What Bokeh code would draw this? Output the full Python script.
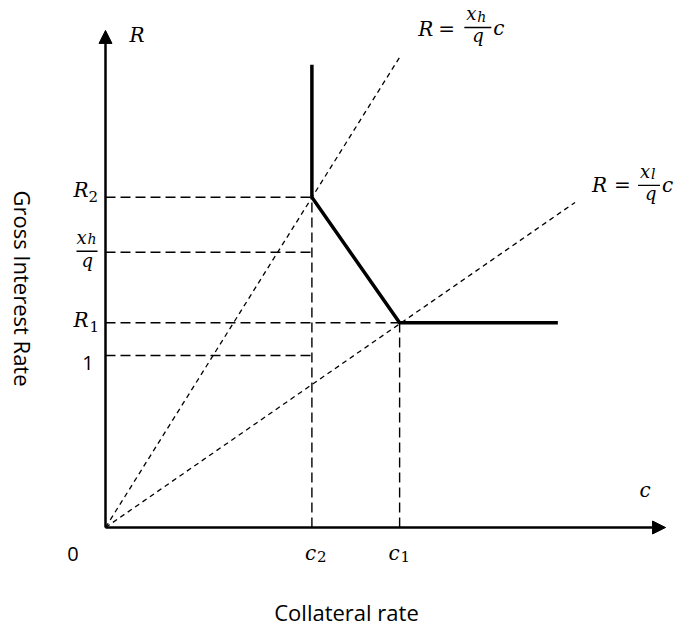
import math
from bokeh.plotting import figure
from bokeh.models import Range1d, Arrow, NormalHead
from bokeh.core.properties import value
from bokeh.embed import file_html
from bokeh.resources import INLINE

# ---------------- data (level "1" = 1 unit) ----------------
c2 = 1.20            # collateral rate c2
c1 = 1.71            # collateral rate c1
R2 = 1.92            # gross rate R2
R1 = 1.19            # gross rate R1
R_one = 1.00         # level "1"
xh_q = 1.60          # level x_h / q

# thick piecewise curve
curve_c = [1.20, 1.20, 1.71, 2.63]
curve_R = [2.69, 1.92, 1.19, 1.19]

# dotted rays through the origin: R = (x_h/q) c and R = (x_l/q) c
ray_h_c = [0.0, 1.72]
ray_h_R = [0.0, 2.75]
ray_l_c = [0.0, 2.73]
ray_l_R = [0.0, 1.89]

# axis extents
c_axis_max = 3.256
R_axis_max = 2.89

# dashed guide lines
guide_h_R = [R2, xh_q, R1, R_one]
guide_h_c = [c2, c2, c1, c2]
guide_v_c = [c2, c1]
guide_v_R = [R2, R1]

# ---------------- figure ----------------
W, H = 675, 625
PX = 1.0 / 172.0           # data units per screen pixel (both axes)
ORIG_X, ORIG_Y = 105, 527  # origin position on the canvas (pixels from left / top)
FIX = -8                   # baseline correction for alphabetic texts

p = figure(width=W, height=H, output_backend="svg", toolbar_location=None,
           x_range=Range1d(-ORIG_X * PX, (W - ORIG_X) * PX),
           y_range=Range1d(-(H - ORIG_Y) * PX, ORIG_Y * PX),
           x_axis_location=None, y_axis_location=None,
           min_border=0, min_border_left=0, min_border_right=0,
           min_border_top=0, min_border_bottom=0,
           outline_line_color=None, background_fill_color="white",
           border_fill_color="white")
p.grid.visible = False

BLACK = "black"

# dashed guides
p.segment(x0=[0] * len(guide_h_R), y0=guide_h_R, x1=guide_h_c, y1=guide_h_R,
          line_color=BLACK, line_width=1.4, line_dash="10 5")
p.segment(x0=guide_v_c, y0=[0] * len(guide_v_c), x1=guide_v_c, y1=guide_v_R,
          line_color=BLACK, line_width=1.4, line_dash="10 5")

# dotted rays
p.line(ray_h_c, ray_h_R, line_color=BLACK, line_width=1.3, line_dash="5 4")
p.line(ray_l_c, ray_l_R, line_color=BLACK, line_width=1.3, line_dash="5 4")

# thick curve
p.line(curve_c, curve_R, line_color=BLACK, line_width=3.5, line_join="miter")

# axes with arrow heads
for xe, ye in [(c_axis_max, 0), (0, R_axis_max)]:
    p.add_layout(Arrow(end=NormalHead(size=13, fill_color=BLACK, line_color=BLACK, line_width=1),
                       x_start=0, y_start=0, x_end=xe, y_end=ye,
                       line_color=BLACK, line_width=2.5))

SERIF = "DejaVu Serif"
SANS = "Open Sans"


def txt(x, y, s, dx=0, dy=0, font=SERIF, size=20, style="italic",
        align="left", baseline="alphabetic", angle=0.0):
    if baseline == "alphabetic":
        dy = dy + FIX
    p.text(x=[x], y=[y], text=[s], x_offset=dx, y_offset=dy,
           text_font=value(font), text_font_size=f"{size}px",
           text_font_style=style, text_align=align, text_baseline=baseline,
           angle=angle, text_color=BLACK)


def bar(x, y, dx0, dx1, dy, w=1.4):
    p.segment(x0=[x + dx0 * PX], y0=[y - dy * PX], x1=[x + dx1 * PX], y1=[y - dy * PX],
              line_color=BLACK, line_width=w)


# axis symbols
txt(0, R_axis_max, "R", dx=24, dy=13)
txt(c_axis_max, 0, "c", dx=-26, dy=-30)
txt(0, 0, "0", dx=-32.5, dy=34, font=SANS, style="normal", align="center")

# c2 / c1 labels
txt(c2, 0, "c", dx=-7, dy=33)
txt(c2, 0, "2", dx=5, dy=37, size=15, style="normal")
txt(c1, 0, "c", dx=-11, dy=33)
txt(c1, 0, "1", dx=1, dy=37, size=15, style="normal")

# R-axis level labels
txt(0, R2, "R", dx=-32, dy=1)
txt(0, R2, "2", dx=-17, dy=7, size=15, style="normal")
txt(0, R1, "R", dx=-32, dy=5)
txt(0, R1, "1", dx=-16, dy=12, size=15, style="normal")
txt(0, R_one, "1", dx=-17.5, dy=15, font=SANS, style="normal", align="center")
# x_h / q
bar(0, xh_q, -29, -8, -1)
txt(0, xh_q, "x", dx=-29, dy=-7, size=18)
txt(0, xh_q, "h", dx=-18, dy=-5, size=14)
txt(0, xh_q, "q", dx=-24, dy=16, size=18)

# equation label for the steep ray
hx, hy = ray_h_c[1], ray_h_R[1]
txt(hx, hy, "R", dx=17, dy=-18)
txt(hx, hy, "=", dx=37, dy=-18, style="normal")
bar(hx, hy, 63, 90, -27)
txt(hx, hy, "x", dx=65, dy=-33, size=18)
txt(hx, hy, "h", dx=76, dy=-30, size=14)
txt(hx, hy, "q", dx=71, dy=-11, size=18)
txt(hx, hy, "c", dx=92, dy=-19)

# equation label for the flat ray
lx, ly = ray_l_c[1], ray_l_R[1]
s = -1
txt(lx, ly, "R", dx=18 + s, dy=-9)
txt(lx, ly, "=", dx=40 + s, dy=-9, style="normal")
bar(lx, ly, 64 + s, 86 + s, -17)
txt(lx, ly, "x", dx=66 + s, dy=-23, size=18)
txt(lx, ly, "l", dx=77 + s, dy=-20, size=14)
txt(lx, ly, "q", dx=71 + s, dy=-1, size=18)
txt(lx, ly, "c", dx=88 + s, dy=-9)

# axis titles (reference-pixel placement converted into data units)
txt((22.5 - ORIG_X) * PX, (ORIG_Y - 288) * PX, "Gross Interest Rate", font=SANS, size=22,
    style="normal", align="center", baseline="middle", angle=-math.pi / 2)
txt((346 - ORIG_X) * PX, (ORIG_Y - 619) * PX, "Collateral rate", font=SANS, size=22,
    style="normal", align="center")

open("out.html", "w").write(file_html(p, INLINE))
